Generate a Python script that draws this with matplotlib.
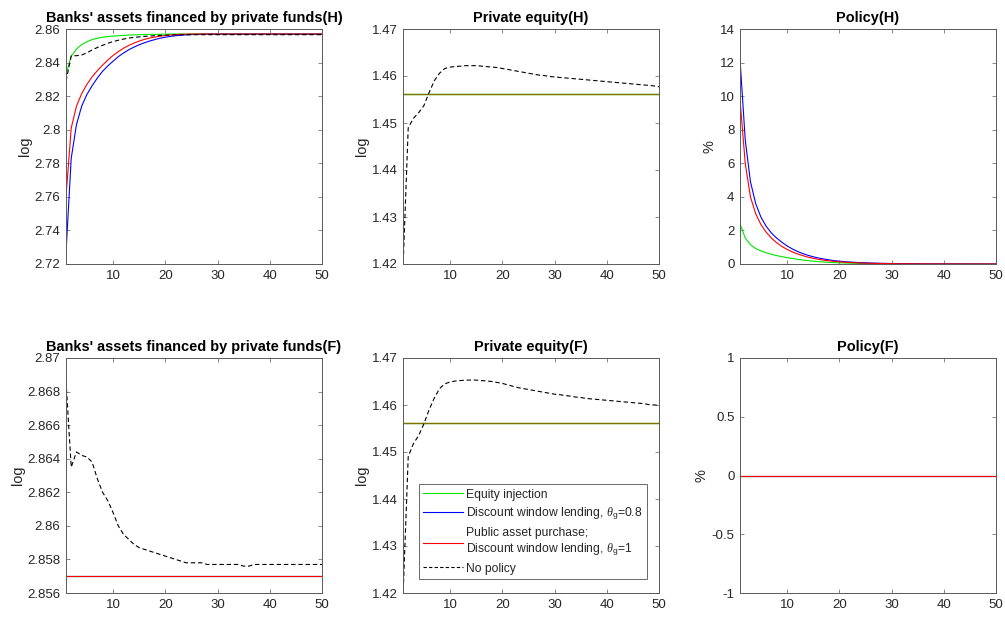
import numpy as np
import matplotlib
matplotlib.use("Agg")
import matplotlib.pyplot as plt

# ---------------- data ----------------
t = list(range(1, 51))

# Banks' assets financed by private funds (H)
assets_H_green = [2.8330, 2.8438, 2.8480, 2.8507, 2.8524, 2.8537, 2.8545, 2.8551, 2.8555, 2.8558,
                  2.8560, 2.8562, 2.8564, 2.8565, 2.8566, 2.8567, 2.8568, 2.8568, 2.8569, 2.8569,
                  2.8570, 2.8570, 2.8570, 2.8570, 2.8570, 2.8570, 2.8570, 2.8570, 2.8570, 2.8570,
                  2.8570, 2.8570, 2.8570, 2.8570, 2.8570, 2.8570, 2.8570, 2.8570, 2.8570, 2.8570,
                  2.8570, 2.8570, 2.8570, 2.8570, 2.8570, 2.8570, 2.8570, 2.8570, 2.8570, 2.8570]
assets_H_blue = [2.7270, 2.7830, 2.8030, 2.8140, 2.8210, 2.8262, 2.8308, 2.8348, 2.8380, 2.8408,
                 2.8435, 2.8457, 2.8476, 2.8492, 2.8506, 2.8518, 2.8528, 2.8537, 2.8545, 2.8551,
                 2.8556, 2.8560, 2.8563, 2.8565, 2.8567, 2.8568, 2.8569, 2.8570, 2.8570, 2.8570,
                 2.8570, 2.8570, 2.8570, 2.8570, 2.8570, 2.8570, 2.8570, 2.8570, 2.8570, 2.8570,
                 2.8570, 2.8570, 2.8570, 2.8570, 2.8570, 2.8570, 2.8570, 2.8570, 2.8570, 2.8570]
assets_H_red = [2.7600, 2.8010, 2.8140, 2.8215, 2.8270, 2.8315, 2.8352, 2.8385, 2.8415, 2.8442,
                2.8465, 2.8485, 2.8502, 2.8516, 2.8528, 2.8538, 2.8546, 2.8552, 2.8557, 2.8561,
                2.8564, 2.8566, 2.8568, 2.8569, 2.8570, 2.8570, 2.8570, 2.8570, 2.8570, 2.8570,
                2.8570, 2.8570, 2.8570, 2.8570, 2.8570, 2.8570, 2.8570, 2.8570, 2.8570, 2.8570,
                2.8570, 2.8570, 2.8570, 2.8570, 2.8570, 2.8570, 2.8570, 2.8570, 2.8570, 2.8570]
assets_H_nopol = [2.8290, 2.8440, 2.8441, 2.8445, 2.8458, 2.8475, 2.8490, 2.8503, 2.8515, 2.8525,
                  2.8533, 2.8540, 2.8546, 2.8550, 2.8553, 2.8556, 2.8558, 2.8560, 2.8562, 2.8563,
                  2.8564, 2.8565, 2.8566, 2.8566, 2.8566, 2.8566, 2.8566, 2.8566, 2.8566, 2.8566,
                  2.8566, 2.8566, 2.8566, 2.8566, 2.8566, 2.8566, 2.8566, 2.8566, 2.8566, 2.8566,
                  2.8566, 2.8566, 2.8566, 2.8566, 2.8566, 2.8566, 2.8566, 2.8566, 2.8566, 2.8566]

# Private equity (H)
equity_H_policy = [1.4561] * 50
equity_H_nopol = [1.4190, 1.4490, 1.4510, 1.4522, 1.4537, 1.4565, 1.4590, 1.4606, 1.4616, 1.4619,
                  1.4620, 1.4621, 1.4622, 1.4622, 1.4622, 1.4621, 1.4620, 1.4619, 1.4618, 1.4616,
                  1.4614, 1.4612, 1.4610, 1.4608, 1.4606, 1.4604, 1.4602, 1.4601, 1.4599, 1.4598,
                  1.4597, 1.4596, 1.4595, 1.4594, 1.4593, 1.4592, 1.4591, 1.4590, 1.4589, 1.4588,
                  1.4587, 1.4586, 1.4585, 1.4584, 1.4583, 1.4582, 1.4581, 1.4580, 1.4579, 1.4577]

# Policy (H), %
policy_H_green = [2.4, 1.55, 1.15, 0.92, 0.78, 0.67, 0.58, 0.50, 0.44, 0.38,
                  0.33, 0.28, 0.24, 0.20, 0.17, 0.14, 0.12, 0.10, 0.08, 0.07,
                  0.06, 0.05, 0.04, 0.035, 0.03, 0.025, 0.02, 0.017, 0.014, 0.012,
                  0.010, 0.008, 0.007, 0.006, 0.005, 0.004, 0.003, 0.003, 0.002, 0.002,
                  0.002, 0.001, 0.001, 0.001, 0.001, 0.001, 0.0, 0.0, 0.0, 0.0]
policy_H_blue = [12.2, 7.4, 4.9, 3.6, 2.8, 2.25, 1.85, 1.55, 1.30, 1.08,
                 0.90, 0.75, 0.62, 0.52, 0.43, 0.36, 0.30, 0.25, 0.20, 0.17,
                 0.14, 0.12, 0.10, 0.08, 0.07, 0.06, 0.05, 0.04, 0.035, 0.03,
                 0.025, 0.02, 0.018, 0.015, 0.012, 0.010, 0.009, 0.008, 0.007, 0.006,
                 0.005, 0.004, 0.004, 0.003, 0.003, 0.002, 0.002, 0.002, 0.001, 0.001]
policy_H_red = [9.8, 6.0, 4.0, 3.0, 2.35, 1.9, 1.55, 1.27, 1.05, 0.87,
                0.72, 0.60, 0.50, 0.41, 0.34, 0.28, 0.23, 0.19, 0.16, 0.13,
                0.11, 0.09, 0.075, 0.06, 0.05, 0.04, 0.035, 0.03, 0.025, 0.02,
                0.016, 0.013, 0.011, 0.009, 0.008, 0.006, 0.005, 0.004, 0.004, 0.003,
                0.003, 0.002, 0.002, 0.002, 0.001, 0.001, 0.001, 0.001, 0.001, 0.0]

# Banks' assets financed by private funds (F)
assets_F_policy = [2.8570] * 50
assets_F_nopol = [2.8686, 2.8635, 2.8644, 2.8642, 2.8641, 2.8638, 2.8628, 2.8620, 2.8615, 2.8608,
                  2.8600, 2.8595, 2.8592, 2.8589, 2.8587, 2.8586, 2.8585, 2.8584, 2.8583, 2.8582,
                  2.8581, 2.8580, 2.8579, 2.8578, 2.8578, 2.8578, 2.8578, 2.8577, 2.8577, 2.8577,
                  2.8577, 2.8577, 2.8577, 2.8577, 2.8576, 2.8576, 2.8577, 2.8577, 2.8577, 2.8577,
                  2.8577, 2.8577, 2.8577, 2.8577, 2.8577, 2.8577, 2.8577, 2.8577, 2.8577, 2.8577]

# Private equity (F)
equity_F_policy = [1.4561] * 50
equity_F_nopol = [1.4190, 1.4490, 1.4518, 1.4535, 1.4560, 1.4590, 1.4615, 1.4635, 1.4645, 1.4649,
                  1.4651, 1.4652, 1.4653, 1.4653, 1.4653, 1.4652, 1.4651, 1.4650, 1.4648, 1.4646,
                  1.4643, 1.4640, 1.4637, 1.4635, 1.4633, 1.4631, 1.4629, 1.4627, 1.4625, 1.4623,
                  1.4622, 1.4620, 1.4619, 1.4617, 1.4616, 1.4614, 1.4613, 1.4612, 1.4611, 1.4610,
                  1.4609, 1.4608, 1.4607, 1.4606, 1.4605, 1.4604, 1.4603, 1.4601, 1.4600, 1.4600]

# Policy (F), %
policy_F = [0.0] * 50

titles = ["Banks' assets financed by private funds(H)", "Private equity(H)", "Policy(H)",
          "Banks' assets financed by private funds(F)", "Private equity(F)", "Policy(F)"]
ylabels = ["log", "log", "%", "log", "log", "%"]
xticks = [10, 20, 30, 40, 50]
yticks_list = [
    [2.72, 2.74, 2.76, 2.78, 2.80, 2.82, 2.84, 2.86],
    [1.42, 1.43, 1.44, 1.45, 1.46, 1.47],
    [0, 2, 4, 6, 8, 10, 12, 14],
    [2.856, 2.858, 2.860, 2.862, 2.864, 2.866, 2.868, 2.870],
    [1.42, 1.43, 1.44, 1.45, 1.46, 1.47],
    [-1, -0.5, 0, 0.5, 1],
]
legend_labels = ["Equity injection",
                 r"Discount window lending, $\theta_{\rm g}$=0.8",
                 "Public asset purchase;\n" + r"Discount window lending, $\theta_{\rm g}$=1",
                 "No policy"]

# ---------------- style ----------------
plt.rcParams['font.family'] = ['Liberation Sans', 'DejaVu Sans']
plt.rcParams['mathtext.fontset'] = 'custom'
plt.rcParams['mathtext.it'] = 'Liberation Serif:italic'
plt.rcParams['mathtext.rm'] = 'Liberation Sans'
TXT = (0.15, 0.15, 0.15)
AX = (0.35, 0.35, 0.35)
GREEN, BLUE, RED = (0.0, 0.9, 0.0), (0.0, 0.0, 1.0), (1.0, 0.0, 0.0)
LW = 0.8

W, H = 1005, 619
fig = plt.figure(figsize=(W / 100, H / 100), dpi=100)

col_left = [66, 403, 740]
row_top = [29, 358]
aw, ah = 256, 235

def fmt(v):
    s = ('%.3f' % v).rstrip('0').rstrip('.')
    return '0' if s in ('-0',) else s

axes = []
for r in range(2):
    for c in range(3):
        left = col_left[c] / W
        bottom = 1 - (row_top[r] + ah) / H
        ax = fig.add_axes([left, bottom, aw / W, ah / H])
        axes.append(ax)

def style(ax, idx):
    yt = yticks_list[idx]
    ax.set_xlim(1, 50)
    ax.set_ylim(yt[0], yt[-1])
    ax.set_xticks(xticks)
    ax.set_xticklabels([str(v) for v in xticks])
    ax.set_yticks(yt)
    ax.set_yticklabels([fmt(v) for v in yt])
    ax.tick_params(direction='in', length=3, width=0.5, colors=AX, labelcolor=TXT,
                   labelsize=9.5, top=True, right=True, pad=4)
    for s in ax.spines.values():
        s.set_color(AX)
        s.set_linewidth(0.7)
    ax.set_title(titles[idx], fontsize=10.45, fontweight='bold', color='black', pad=5)
    ax.set_ylabel(ylabels[idx], fontsize=10.45, color=TXT, labelpad=2)

# Panel 1
ax = axes[0]
ax.plot(t, assets_H_green, color=GREEN, lw=LW)
ax.plot(t, assets_H_blue, color=BLUE, lw=LW)
ax.plot(t, assets_H_red, color=RED, lw=LW)
ax.plot(t, assets_H_nopol, color='black', lw=LW, ls=(0, (4, 2.5)))
style(ax, 0)

# Panel 2
ax = axes[1]
ax.plot(t, equity_H_policy, color=GREEN, lw=1.0)
ax.plot(t, equity_H_policy, color=BLUE, lw=1.0, alpha=0.0)
ax.plot(t, equity_H_policy, color=RED, lw=1.0, alpha=0.5)
ax.plot(t, equity_H_nopol, color='black', lw=LW, ls=(0, (4, 2.5)))
style(ax, 1)

# Panel 3
ax = axes[2]
ax.plot(t, policy_H_green, color=GREEN, lw=LW)
ax.plot(t, policy_H_blue, color=BLUE, lw=LW)
ax.plot(t, policy_H_red, color=RED, lw=LW)
style(ax, 2)

# Panel 4
ax = axes[3]
ax.plot(t, assets_F_policy, color=GREEN, lw=LW)
ax.plot(t, assets_F_policy, color=BLUE, lw=LW)
ax.plot(t, assets_F_policy, color=RED, lw=LW)
ax.plot(t, assets_F_nopol, color='black', lw=LW, ls=(0, (4, 2.5)))
style(ax, 3)

# Panel 5
ax = axes[4]
ax.plot(t, equity_F_policy, color=GREEN, lw=1.0)
ax.plot(t, equity_F_policy, color=BLUE, lw=1.0, alpha=0.0)
ax.plot(t, equity_F_policy, color=RED, lw=1.0, alpha=0.5)
ax.plot(t, equity_F_nopol, color='black', lw=LW, ls=(0, (4, 2.5)))
style(ax, 4)
h_green, = ax.plot([], [], color=GREEN, lw=LW)
h_blue, = ax.plot([], [], color=BLUE, lw=LW)
h_red, = ax.plot([], [], color=RED, lw=LW)
h_k, = ax.plot([], [], color='black', lw=LW, ls=(0, (3, 2)))
leg = ax.legend([h_green, h_blue, h_red, h_k], legend_labels, loc='lower left',
                bbox_to_anchor=(0.0625, 0.06), borderaxespad=0, fontsize=8.7,
                frameon=True, fancybox=False, handlelength=3.3, handletextpad=0.25,
                borderpad=0.35, labelspacing=0.4)
leg.get_frame().set_edgecolor(TXT)
leg.get_frame().set_linewidth(0.6)
for txt in leg.get_texts():
    txt.set_color(TXT)

# Panel 6
ax = axes[5]
ax.plot(t, policy_F, color=GREEN, lw=LW)
ax.plot(t, policy_F, color=BLUE, lw=LW)
ax.plot(t, policy_F, color=RED, lw=LW)
style(ax, 5)

fig.savefig('out.png', dpi=100)
